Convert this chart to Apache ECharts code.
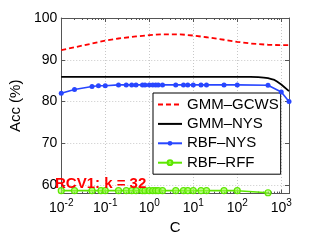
<!DOCTYPE html>
<html><head><meta charset="utf-8">
<script src="https://cdn.jsdelivr.net/npm/echarts@6/dist/echarts.min.js"></script>
<style>html,body{margin:0;padding:0;background:#fff}#c{width:319px;height:240px}</style>
</head><body><div id="c"></div>
<script>
// ---- data ----
const seriesNames = ['GMM–GCWS', 'GMM–NYS', 'RBF–NYS', 'RBF–RFF'];
const gcwsC = [0.01,0.02,0.05,0.1,0.2,0.5,1,2,5,10,20,50,100,200,500,1000,1500];
const gcwsAcc = [92.3,93.0,93.9,94.6,95.1,95.6,95.9,96.1,96.1,95.8,95.4,94.8,94.3,93.9,93.6,93.5,93.5];
const gmmNysC = [0.01,0.1,1,10,100,200,300,400,500,600,700,800,1000,1500];
const gmmNysAcc = [85.9,85.9,85.9,85.9,85.9,85.9,85.85,85.75,85.6,85.4,85.2,84.8,84.1,82.5];
const rbfNysC = [0.01,0.02,0.05,0.07,0.1,0.2,0.3,0.4,0.5,0.7,0.8,1,1.2,1.4,1.6,2,4,6,7.5,10,15,20,50,100,500,1000,1500];
const rbfNysAcc = [82.0,82.9,83.6,83.8,83.8,84.0,84.0,84.0,84.0,84.0,84.0,84.0,84.0,84.0,84.0,84.0,84.0,84.0,84.0,84.0,84.0,84.0,84.0,84.0,83.9,82.3,80.0];
const rbfRffC = [0.01,0.02,0.05,0.08,0.1,0.2,0.3,0.4,0.5,0.7,0.8,1,1.2,1.4,1.6,2,4,6,7.5,10,15,20,50,100,500];
const rbfRffAcc = [58.7,58.7,58.7,58.7,58.7,58.7,58.7,58.7,58.7,58.7,58.7,58.7,58.7,58.7,58.7,58.7,58.7,58.7,58.7,58.7,58.7,58.7,58.7,58.7,58.2];
const xTicks = [0.01,0.1,1,10,100,1000];
const xMinor = [];
[0.01,0.1,1,10,100,1000].forEach(d=>{for(let k=2;k<=9;k++){const v=d*k; if(v<=1500) xMinor.push(+v.toPrecision(3));}});
const yTicks = [60,70,80,90,100];
const xMin = 0.01, xMax = 1500, yMin = 58, yMax = 100;
const annotation = 'RCV1: k = 32';

const pairs = (xs, ys) => xs.map((x,i)=>[x, ys[i]]);
const FONT = '"Liberation Sans", Arial, Helvetica, sans-serif';
const AX = '#555';
const chart = echarts.init(document.getElementById('c'), null, {renderer:'canvas'});

function supLabel(v){
  const e = Math.round(Math.log10(v));
  return '{b|10}{s|' + (e<0?'-':'') + Math.abs(e) + '}';
}
const baseX = {
  type:'log', logBase:10, min:xMin, max:xMax, gridIndex:0
};
const hideSym = {opacity:0, color:'rgba(0,0,0,0)', borderWidth:0};
chart.setOption({
  animation:false,
  textStyle:{fontFamily:FONT},
  grid:{left:48, right:30, top:18, bottom:40, containLabel:false},
  title:{text:annotation, left:55, top:176, padding:0,
    textStyle:{color:'#ff0000', fontSize:15, fontWeight:'bold', fontFamily:FONT}},
  legend:{
    orient:'vertical', left:153, top:93, padding:[4,2,4,4],
    itemWidth:24, itemHeight:6, itemGap:4.4,
    borderColor:'#000', borderWidth:1, backgroundColor:'#fff', borderRadius:0,
    textStyle:{fontSize:15, lineHeight:15, color:'#000', fontFamily:FONT},
    data:[
      {name:seriesNames[0], itemStyle:hideSym},
      {name:seriesNames[1], itemStyle:hideSym},
      {name:seriesNames[2]},
      {name:seriesNames[3]}
    ]
  },
  xAxis:[
    Object.assign({}, baseX, {
      position:'bottom',
      name:'C', nameLocation:'middle', nameGap:24,
      nameTextStyle:{fontSize:15, color:'#000', fontFamily:FONT},
      axisLine:{show:true, lineStyle:{color:AX, width:1}},
      axisTick:{show:true, inside:true, length:4, lineStyle:{color:AX}, customValues:xTicks},
      axisLabel:{show:true, margin:5, customValues:xTicks, formatter:supLabel,
        rich:{b:{fontSize:14, color:'#000', fontFamily:FONT},
              s:{fontSize:10, color:'#000', fontFamily:FONT, padding:[0,0,9,0]}}},
      splitLine:{show:true, lineStyle:{color:'#c8c8c8', type:[1,2], width:1}, customValues:xTicks},
      minorTick:{show:false}
    }),
    Object.assign({}, baseX, {
      position:'top',
      axisLine:{show:true, lineStyle:{color:AX, width:1}},
      axisTick:{show:true, inside:true, length:4, lineStyle:{color:AX}, customValues:xTicks},
      axisLabel:{show:false}, splitLine:{show:false}
    }),
    Object.assign({}, baseX, {
      position:'bottom',
      axisLine:{show:false},
      axisTick:{show:true, inside:true, length:2, lineStyle:{color:AX}, customValues:xMinor},
      axisLabel:{show:false}, splitLine:{show:false}
    }),
    Object.assign({}, baseX, {
      position:'top',
      axisLine:{show:false},
      axisTick:{show:true, inside:true, length:2, lineStyle:{color:AX}, customValues:xMinor},
      axisLabel:{show:false}, splitLine:{show:false}
    })
  ],
  yAxis:[
    {
      type:'value', min:yMin, max:yMax, position:'left',
      name:'Acc (%)', nameLocation:'middle', nameGap:28, nameRotate:90,
      nameTextStyle:{fontSize:15, color:'#000', fontFamily:FONT},
      axisLine:{show:true, lineStyle:{color:AX, width:1}},
      axisTick:{show:true, inside:true, length:4, lineStyle:{color:AX}, customValues:yTicks},
      axisLabel:{show:true, margin:4, fontSize:14, color:'#000', fontFamily:FONT, customValues:yTicks},
      splitLine:{show:true, lineStyle:{color:'#c8c8c8', type:[1,2], width:1}, customValues:yTicks}
    },
    {
      type:'value', min:yMin, max:yMax, position:'right',
      axisLine:{show:true, lineStyle:{color:AX, width:1}},
      axisTick:{show:true, inside:true, length:4, lineStyle:{color:AX}, customValues:yTicks},
      axisLabel:{show:false}, splitLine:{show:false}
    }
  ],
  series:[
    {name:seriesNames[0], type:'line', data:pairs(gcwsC, gcwsAcc), showSymbol:false, symbol:'none',
      lineStyle:{color:'#ff0000', width:1.8, type:[5,3]}, itemStyle:{color:'#ff0000'}, z:3},
    {name:seriesNames[1], type:'line', data:pairs(gmmNysC, gmmNysAcc), symbol:'none',
      lineStyle:{color:'#000', width:1.8}, itemStyle:{color:'#000'}, z:3},
    {name:seriesNames[2], type:'line', data:pairs(rbfNysC, rbfNysAcc), symbol:'circle', symbolSize:5,
      lineStyle:{color:'#2846ff', width:1.6}, itemStyle:{color:'#2846ff'}, z:4},
    {name:seriesNames[3], type:'line', data:pairs(rbfRffC, rbfRffAcc), symbol:'circle', symbolSize:6,
      lineStyle:{color:'#5ce600', width:1.6},
      itemStyle:{color:'rgba(160,255,80,0.6)', borderColor:'#5ce600', borderWidth:1.2}, z:4}
  ]
});
</script></body></html>
